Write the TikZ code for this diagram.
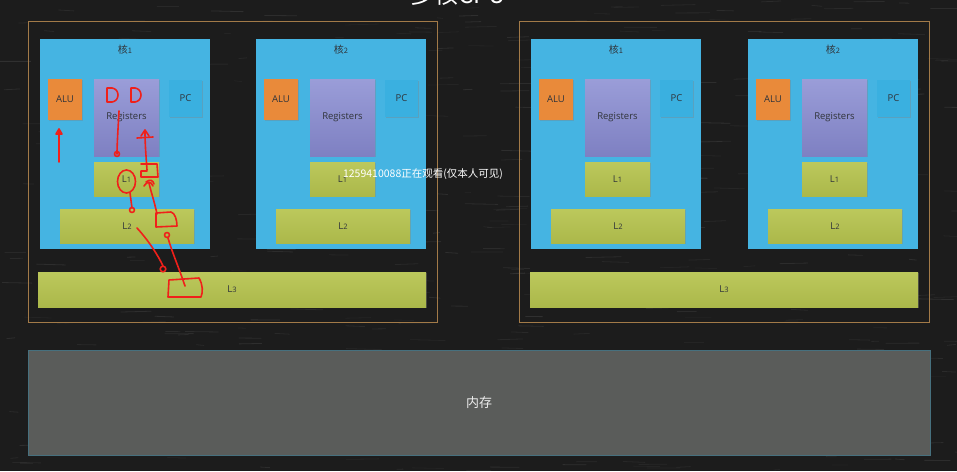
\documentclass[tikz,border=0pt]{standalone}
\usepackage{fontspec}
\setmainfont{Open Sans}
\newfontfamily\cjk{Noto Sans CJK SC}
\usetikzlibrary{shadows}
\definecolor{bgc}{HTML}{1C1C1C}
\definecolor{framec}{HTML}{A27A48}
\definecolor{corec}{HTML}{45B4E2}
\definecolor{aluc}{HTML}{E98A3A}
\definecolor{regtop}{HTML}{9A9DD8}
\definecolor{regbot}{HTML}{7E80C2}
\definecolor{pcc}{HTML}{3AB0E0}
\definecolor{cachetop}{HTML}{BCC85C}
\definecolor{cachebot}{HTML}{ABB84A}
\definecolor{memc}{HTML}{5A5C5A}
\definecolor{memb}{HTML}{46707E}
\definecolor{labc}{HTML}{30343A}
\definecolor{annot}{HTML}{F0201A}
\tikzset{
  cpuframe/.style={draw=framec, line width=0.9pt, rectangle, inner sep=0pt},
  corebox/.style={fill=corec, rectangle, inner sep=0pt},
  shade/.style={drop shadow={shadow xshift=1.2pt, shadow yshift=-1.2pt, opacity=0.35}},
  lab/.style={text=labc, font=\fontsize{9.5}{11}\selectfont},
  alubox/.style={fill=aluc, rectangle, inner sep=0pt, shade, lab},
  regbox/.style={top color=regtop, bottom color=regbot, rectangle, inner sep=0pt, shade, lab},
  pcbox/.style={fill=pcc, rectangle, inner sep=0pt, shade, lab},
  cachebox/.style={top color=cachetop, bottom color=cachebot, rectangle, inner sep=0pt, shade, lab},
  memory/.style={fill=memc, draw=memb, line width=0.8pt, rectangle, inner sep=0pt, text=white!85!gray, font=\cjk\fontsize{13}{15}\selectfont},
  ctitle/.style={text=labc, font=\cjk\fontsize{10}{12}\selectfont},
  redpen/.style={draw=annot, line width=1.6pt, line cap=round, line join=round},
}
\newcommand{\sm}[1]{{\fontsize{7.5}{8}\selectfont #1}}
\newcommand{\makecore}[3]{%
  \begin{scope}[shift={(#1,0)}]
    \node[corebox, minimum width=170pt, minimum height=210pt] (#2) at (85,144) {};
    \node[ctitle] (#2t) at (85,50) {核\sm{#3}};
    \node[alubox, minimum width=34pt, minimum height=41pt] (#2alu) at (25,99.5) {ALU};
    \node[regbox, minimum width=65pt, minimum height=77pt] (#2reg) at (86.5,117.5) {Registers};
    \node[pcbox, minimum width=33pt, minimum height=37pt] (#2pc) at (145.5,98.5) {PC};
    \node[cachebox, minimum width=65pt, minimum height=34pt] (#2l1) at (86.5,179) {L\sm{1}};
    \node[cachebox, minimum width=134pt, minimum height=34pt] (#2l2) at (87,226) {L\sm{2}};
  \end{scope}}
\begin{document}
\begin{tikzpicture}[x=1pt,y=-1pt]
\useasboundingbox (0,0) rectangle (957,471);
\fill[bgc] (0,0) rectangle (957,471);
% chalkboard texture
\pgfmathsetseed{7}
\foreach \i in {1,...,500}{
  \pgfmathsetmacro\xa{rnd*957}
  \pgfmathsetmacro\ya{rnd*471}
  \pgfmathsetmacro\ln{6+rnd*30}
  \pgfmathsetmacro\op{0.03+rnd*0.06}
  \draw[white, opacity=\op, line width=0.8pt] (\xa,\ya) -- ++(\ln,rnd*2-1);
}
% title (cut off at top, as in the reference)
\node[anchor=base west, text=white, font=\cjk\fontsize{24}{26}\selectfont, inner sep=0pt] (title) at (410,3) {多核CPU};
% CPU frames
\node[cpuframe, minimum width=409pt, minimum height=301pt] (cpuA) at (232.5,171.5) {};
\node[cpuframe, minimum width=410pt, minimum height=301pt] (cpuB) at (724,171.5) {};
% cores
\makecore{40}{a}{1}
\makecore{256}{b}{2}
\makecore{531}{c}{1}
\makecore{748}{d}{2}
% L3 caches
\node[cachebox, minimum width=388pt, minimum height=35pt] (l3a) at (232,289.5) {L\sm{3}};
\node[cachebox, minimum width=388pt, minimum height=35pt] (l3b) at (724,289.5) {L\sm{3}};
% memory
\node[memory, minimum width=902pt, minimum height=105pt] (mem) at (479,402.5) {内存};
% red hand annotations
\draw[redpen] (107,88) -- (107,102) -- (112,102) .. controls (120,101) and (120,89) .. (112,88) -- cycle;
\draw[redpen] (131,88) -- (131,102) -- (135,102) .. controls (143,101) and (143,89) .. (135,88) -- cycle;
\draw[redpen] (59,162) -- (59,131);
\draw[redpen] (56,134) -- (59,129) -- (62,134) -- cycle;
\draw[redpen] (119,111) .. controls (118,130) and (117,145) .. (117,154);
\draw[redpen] (117,154) circle (2.5);
\draw[redpen] (147,170) .. controls (146,155) and (145,145) .. (145,131);
\draw[redpen] (137,138) -- (153,137);
\draw[redpen] (141,136) -- (145,130) -- (149,136);
\draw[redpen] (126.5,181.5) ellipse (9 and 11.5);
\draw[redpen] (130,193) -- (132,208);
\draw[redpen] (132,210) circle (2.5);
\draw[redpen] (141,164) -- (157,164) -- (158,177) -- (141,177) -- (141,171) -- (147,171);
\draw[redpen] (144,186) .. controls (147,181) and (151,181) .. (153,186);
\draw[redpen] (146,182) .. controls (150,179) and (153,180) .. (154,184);
\draw[redpen] (157,214) .. controls (154,200) and (151,192) .. (149,183);
\draw[redpen] (156,213) -- (171,212) .. controls (175,213) and (177,220) .. (177,226) -- (156,227) -- cycle;
\draw[redpen] (137,228) .. controls (148,240) and (158,255) .. (163,266);
\draw[redpen] (163,269) circle (2.8);
\draw[redpen] (185,286) .. controls (179,268) and (172,252) .. (168,238);
\draw[redpen] (167,235) circle (2.5);
\draw[redpen] (169,280) -- (199,278) .. controls (203,285) and (203,292) .. (201,297) -- (168,297) -- cycle;
% watermark
\node[text=white, font=\cjk\fontsize{10.5}{12}\selectfont, inner sep=0pt] (wm) at (423,174) {1259410088正在观看(仅本人可见)};
\end{tikzpicture}
\end{document}
